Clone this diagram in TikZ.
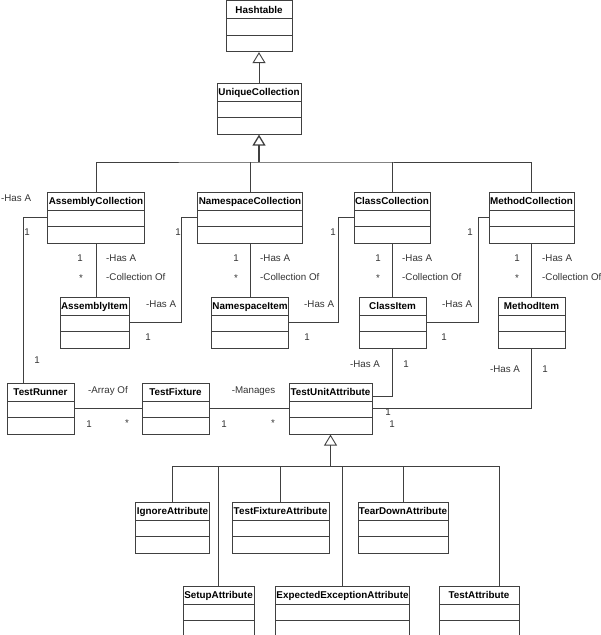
\documentclass[tikz,border=0pt]{standalone}
\usepackage{fontspec}
\setmainfont{Liberation Sans}
\usetikzlibrary{calc, shapes, arrows.meta}

\begin{document}
\begin{tikzpicture}[x=1bp,y=-1bp]
\tikzstyle{cls}=[rectangle split,rectangle split parts=3,draw=black!75,line width=0.9bp,anchor=north,inner xsep=1bp,inner ysep=0pt,rectangle split empty part height=15.5bp,rectangle split empty part depth=0pt,font=\fontsize{9.9}{11}\selectfont\bfseries,text=black]
\tikzstyle{lbl}=[font=\fontsize{9.8}{11}\selectfont,text=black!80,inner sep=0pt]
\tikzstyle{link}=[draw=black!75,line width=0.9bp]
\tikzstyle{inherit}=[link,-{Triangle[open,length=11bp,width=13bp]}]
\clip (0,0) rectangle (601,635);
\node[cls,minimum width=66bp] (C_Hashtable) at (259,0.5) {\rule[-5bp]{0pt}{17bp}Hashtable};
\node[cls,minimum width=84bp] (C_Unique) at (259,83) {\rule[-5bp]{0pt}{17bp}UniqueCollection};
\node[cls,minimum width=96bp] (C_AsmColl) at (96,192) {\rule[-5bp]{0pt}{17bp}AssemblyCollection};
\node[cls,minimum width=104bp] (C_NsColl) at (250,192) {\rule[-5bp]{0pt}{17bp}NamespaceCollection};
\node[cls,minimum width=76bp] (C_ClsColl) at (392,192) {\rule[-5bp]{0pt}{17bp}ClassCollection};
\node[cls,minimum width=85bp] (C_MthColl) at (531.5,192) {\rule[-5bp]{0pt}{17bp}MethodCollection};
\node[cls,minimum width=69bp] (C_AsmItem) at (94.5,297) {\rule[-5bp]{0pt}{17bp}AssemblyItem};
\node[cls,minimum width=76bp] (C_NsItem) at (250,297) {\rule[-5bp]{0pt}{17bp}NamespaceItem};
\node[cls,minimum width=67bp] (C_ClsItem) at (392.5,297) {\rule[-5bp]{0pt}{17bp}ClassItem};
\node[cls,minimum width=67bp] (C_MthItem) at (531.5,297) {\rule[-5bp]{0pt}{17bp}MethodItem};
\node[cls,minimum width=67bp] (C_Runner) at (40.5,383) {\rule[-5bp]{0pt}{17bp}TestRunner};
\node[cls,minimum width=67bp] (C_Fixture) at (175.5,383) {\rule[-5bp]{0pt}{17bp}TestFixture};
\node[cls,minimum width=83bp] (C_UnitAttr) at (330.5,383) {\rule[-5bp]{0pt}{17bp}TestUnitAttribute};
\node[cls,minimum width=73bp] (C_Ignore) at (172.5,502) {\rule[-5bp]{0pt}{17bp}IgnoreAttribute};
\node[cls,minimum width=97bp] (C_FixAttr) at (280.5,502) {\rule[-5bp]{0pt}{17bp}TestFixtureAttribute};
\node[cls,minimum width=90bp] (C_TearDown) at (403,502) {\rule[-5bp]{0pt}{17bp}TearDownAttribute};
\node[cls,minimum width=71bp] (C_Setup) at (218.5,586) {\rule[-5bp]{0pt}{17bp}SetupAttribute};
\node[cls,minimum width=133bp] (C_Expected) at (342.5,586) {\rule[-5bp]{0pt}{17bp}ExpectedExceptionAttribute};
\node[cls,minimum width=80bp] (C_TestAttr) at (479,586) {\rule[-5bp]{0pt}{17bp}TestAttribute};
% generalization
\coordinate (B_top) at (259,162);
\coordinate (B_low) at (330.5,466);
\coordinate (P_test) at (499,586);
\draw[inherit] (C_Unique.north) -- (C_Hashtable.south);
\draw[inherit,line width=1.3bp] (B_top) -- (C_Unique.south);
\draw[link] (C_AsmColl.north) |- (B_top) -| (C_MthColl.north);
\draw[link] (C_NsColl.north) -- (C_NsColl.north |- B_top);
\draw[link] (C_ClsColl.north) -- (C_ClsColl.north |- B_top);
\draw[inherit] (B_low) -- (C_UnitAttr.south);
\draw[link] (C_Ignore.north) |- (P_test |- B_low) -- (P_test);
\draw[link] (C_FixAttr.north) -- (C_FixAttr.north |- B_low);
\draw[link] (C_TearDown.north) -- (C_TearDown.north |- B_low);
\draw[link] (C_Setup.north) -- (C_Setup.north |- B_low);
\draw[link] (C_Expected.north) -- (C_Expected.north |- B_low);
% associations
\draw[link] (C_AsmColl.south) -- (C_AsmColl.south |- C_AsmItem.north);
\draw[link] (C_NsColl.south) -- (C_NsColl.south |- C_NsItem.north);
\draw[link] (C_ClsColl.south) -- (C_ClsColl.south |- C_ClsItem.north);
\draw[link] (C_MthColl.south) -- (C_MthColl.south |- C_MthItem.north);
\draw[link] (C_AsmItem.east) -- ++(52,0) |- (C_NsColl.west);
\draw[link] (C_NsItem.east) -- ++(49,0) |- (C_ClsColl.west);
\draw[link] (C_ClsItem.east) -- ++(52,0) |- (C_MthColl.west);
\draw[link] (C_AsmColl.west) -- ++(-24,0) coordinate (P_runner) -- (P_runner |- C_Runner.north);
\draw[link] (C_Runner) -- (C_Fixture);
\draw[link] (C_Fixture) -- (C_UnitAttr);
\draw[link] (C_ClsItem.south) |- ([yshift=12bp]C_UnitAttr.east);
\draw[link] (C_MthItem.south) |- (C_UnitAttr.east);
% labels
\node[lbl] (L_a1) at (80,258) {1};
\node[lbl] (L_a2) at (81,278) {*};
\node[lbl,anchor=west] (L_a3) at (106,258) {-Has A};
\node[lbl,anchor=west] (L_a4) at (106,277) {-Collection Of};
\node[lbl] (L_n1) at (236,258) {1};
\node[lbl] (L_n2) at (236,278) {*};
\node[lbl,anchor=west] (L_n3) at (260,258) {-Has A};
\node[lbl,anchor=west] (L_n4) at (260,277) {-Collection Of};
\node[lbl] (L_c1) at (378,258) {1};
\node[lbl] (L_c2) at (378,278) {*};
\node[lbl,anchor=west] (L_c3) at (402,258) {-Has A};
\node[lbl,anchor=west] (L_c4) at (402,277) {-Collection Of};
\node[lbl] (L_m1) at (517,258) {1};
\node[lbl] (L_m2) at (517,278) {*};
\node[lbl,anchor=west] (L_m3) at (542,258) {-Has A};
\node[lbl,anchor=west] (L_m4) at (542,277) {-Collection Of};
\node[lbl,anchor=west] (L_an1) at (146,304) {-Has A};
\node[lbl] (L_an2) at (148,337) {1};
\node[lbl] (L_an3) at (178,232) {1};
\node[lbl,anchor=west] (L_nc1) at (304,304) {-Has A};
\node[lbl] (L_nc2) at (307,337) {1};
\node[lbl] (L_nc3) at (333,232) {1};
\node[lbl,anchor=west] (L_cm1) at (442,304) {-Has A};
\node[lbl] (L_cm2) at (444,337) {1};
\node[lbl] (L_cm3) at (470,232) {1};
\node[lbl,anchor=west] (L_r1) at (1,198) {-Has A};
\node[lbl] (L_r2) at (27,232) {1};
\node[lbl] (L_r3) at (37,360) {1};
\node[lbl] (L_f1) at (108,391) {-Array Of};
\node[lbl] (L_f2) at (89,424) {1};
\node[lbl] (L_f3) at (127,423) {*};
\node[lbl] (L_u1) at (253.5,391) {-Manages};
\node[lbl] (L_u2) at (224,424) {1};
\node[lbl] (L_u3) at (273,423) {*};
\node[lbl] (L_ci1) at (365,364) {-Has A};
\node[lbl] (L_ci2) at (406,364) {1};
\node[lbl] (L_mi1) at (505,369) {-Has A};
\node[lbl] (L_mi2) at (545,369) {1};
\node[lbl] (L_ua1) at (388,412) {1};
\node[lbl] (L_ua2) at (392,424) {1};
\end{tikzpicture}
\end{document}
